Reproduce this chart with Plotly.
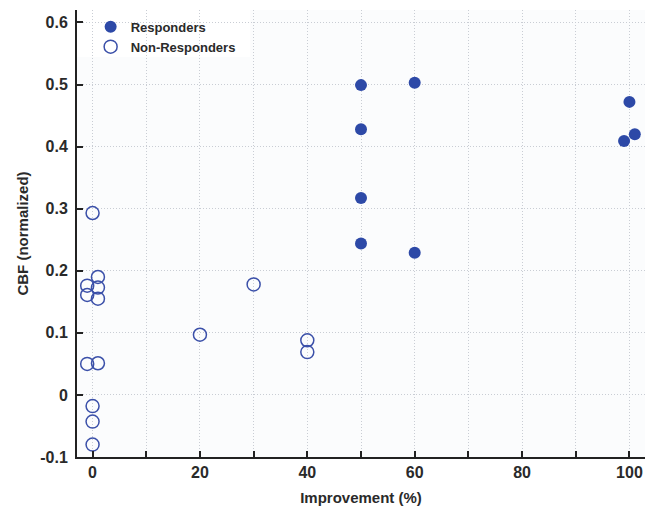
import plotly.graph_objects as go

# Responders (filled)
resp_x = [50, 60, 50, 50, 50, 60, 100, 101, 99]
resp_y = [0.499, 0.503, 0.428, 0.317, 0.244, 0.229, 0.472, 0.420, 0.409]

# Non-responders (open)
non_x = [0, -1, -1, 1, 1, 1, -1, 1, 0, 0, 0, 20, 30, 40, 40]
non_y = [0.293, 0.176, 0.161, 0.190, 0.173, 0.155, 0.050, 0.051, -0.018, -0.043, -0.080,
         0.097, 0.178, 0.088, 0.069]

x_tickvals = [0, 10, 20, 30, 40, 50, 60, 70, 80, 90, 100]
x_ticktext = ["0", "", "20", "", "40", "", "60", "", "80", "", "100"]
y_tickvals = [-0.1, 0, 0.1, 0.2, 0.3, 0.4, 0.5, 0.6]
y_ticktext = ["-0.1", "0", "0.1", "0.2", "0.3", "0.4", "0.5", "0.6"]

BLUE = "#2d49a7"
AXC = "#222222"
GRID = "#c9cdd4"
FONT = "Liberation Sans, Arial, sans-serif"

fig = go.Figure()
fig.add_trace(go.Scatter(
    x=resp_x, y=resp_y, mode="markers", name="Responders",
    marker=dict(symbol="circle", size=12, color=BLUE, line=dict(width=0)),
))
fig.add_trace(go.Scatter(
    x=non_x, y=non_y, mode="markers", name="Non-Responders",
    marker=dict(symbol="circle-open", size=13, color="#3b50a9", line=dict(width=1.5)),
))

# white box behind legend that hides grid
fig.add_shape(type="rect", xref="paper", yref="paper", x0=0, x1=0.305, y0=0.895, y1=1,
              fillcolor="white", line=dict(width=0), layer="between")

fig.update_layout(
    width=651, height=512,
    margin=dict(l=77, r=6, t=10, b=55),
    paper_bgcolor="#ffffff",
    plot_bgcolor="#fbfcfd",
    font=dict(family=FONT, color="#2a2a2a"),
    showlegend=True,
    legend=dict(x=0.024, y=0.996, xanchor="left", yanchor="top",
                bgcolor="rgba(0,0,0,0)", borderwidth=0,
                font=dict(family=FONT, size=13, color="#2a2a2a", weight="bold"),
                tracegroupgap=0, itemwidth=30),
)
fig.update_xaxes(
    range=[-2.9, 102.9], tickmode="array", tickvals=x_tickvals, ticktext=x_ticktext,
    ticks="inside", ticklen=6, tickwidth=2, tickcolor=AXC,
    showline=True, linecolor=AXC, linewidth=2, mirror=False,
    showgrid=True, gridcolor=GRID, griddash="1px,2px", gridwidth=1, zeroline=False,
    tickfont=dict(family=FONT, size=16, color="#2a2a2a", weight="bold"),
    title=dict(text="Improvement (%)", standoff=12,
               font=dict(family=FONT, size=15, color="#2a2a2a", weight="bold")),
    automargin=False,
)
fig.update_yaxes(
    range=[-0.1, 0.62], tickmode="array", tickvals=y_tickvals, ticktext=y_ticktext,
    ticks="inside", ticklen=6, tickwidth=2, tickcolor=AXC,
    showline=True, linecolor=AXC, linewidth=2, mirror=False,
    showgrid=True, gridcolor=GRID, griddash="1px,2px", gridwidth=1, zeroline=False,
    tickfont=dict(family=FONT, size=16, color="#2a2a2a", weight="bold"),
    ticklabelstandoff=4,
    title=dict(text="CBF (normalized)", standoff=8,
               font=dict(family=FONT, size=15, color="#2a2a2a", weight="bold")),
    automargin=False,
)

fig.write_html("out.html", config={"displayModeBar": False},
               post_script="document.body.style.margin='0px';document.body.style.overflow='hidden';")
